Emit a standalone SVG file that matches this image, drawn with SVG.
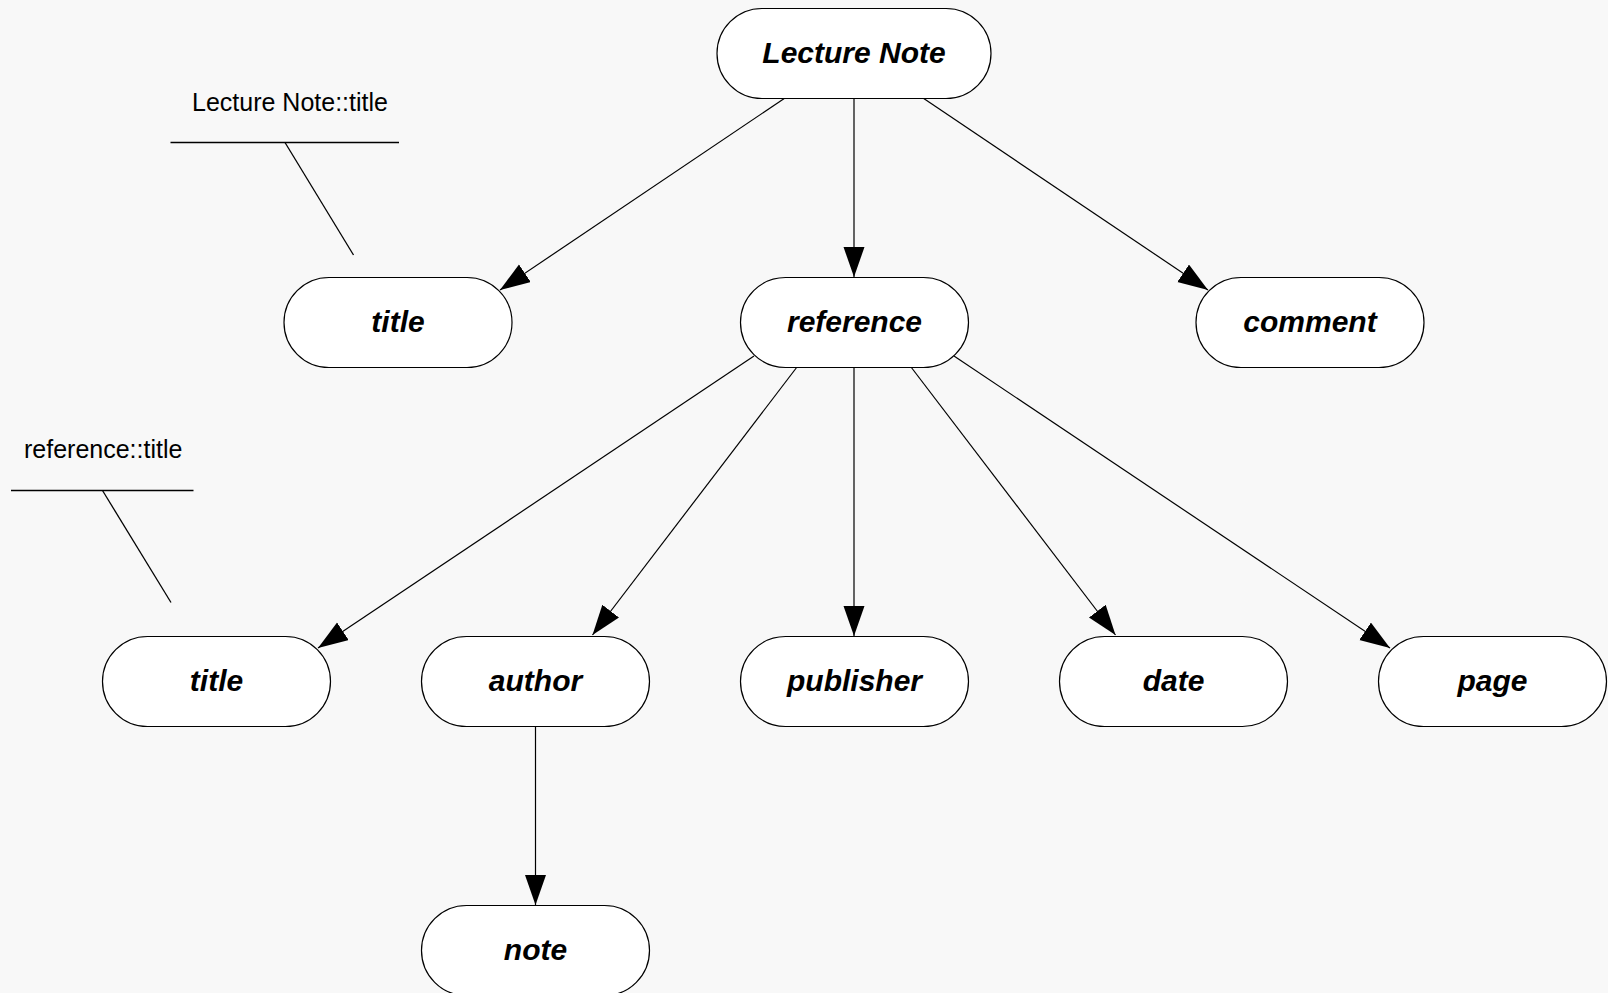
<svg xmlns="http://www.w3.org/2000/svg" width="1608" height="993" viewBox="0 0 1608 993">
<defs>
<style>
.node rect{fill:#ffffff;stroke:#000000;stroke-width:1.2}
.node text{font-family:"Liberation Sans",Arial,sans-serif;font-size:30px;font-weight:bold;font-style:italic;fill:#000000;text-anchor:middle}
.ann line{stroke:#000000;stroke-width:1.3}
.ann text{font-family:"Liberation Sans",Arial,sans-serif;font-size:25px;fill:#000000}
.edges line{stroke:#000000;stroke-width:1.2;fill:none}
</style>
<marker id="arr" markerUnits="userSpaceOnUse" markerWidth="31" markerHeight="22" refX="30" refY="10.5" orient="auto">
<path d="M0,0 L30,10.5 L0,21 Z" fill="#000000"/>
</marker>
</defs>
<rect x="0" y="0" width="1608" height="993" fill="#f8f8f8"/>

<g id="connectors" class="edges">
<line x1="785" y1="98" x2="500" y2="290" marker-end="url(#arr)"/>
<line x1="854" y1="98" x2="854" y2="277" marker-end="url(#arr)"/>
<line x1="923" y1="98" x2="1208" y2="290" marker-end="url(#arr)"/>
<line x1="754" y1="356" x2="318" y2="648" marker-end="url(#arr)"/>
<line x1="797" y1="367" x2="592.5" y2="635" marker-end="url(#arr)"/>
<line x1="854" y1="367" x2="854" y2="636" marker-end="url(#arr)"/>
<line x1="911" y1="367" x2="1115.5" y2="635" marker-end="url(#arr)"/>
<line x1="954" y1="356" x2="1390" y2="648" marker-end="url(#arr)"/>
<line x1="535.5" y1="726" x2="535.5" y2="905" marker-end="url(#arr)"/>
</g>

<g id="ann-lecture-note-title" class="ann">
<text x="192" y="111">Lecture Note::title</text>
<line x1="170.5" y1="142.5" x2="399" y2="142.5"/>
<line x1="285" y1="142.5" x2="353.5" y2="255"/>
</g>
<g id="ann-reference-title" class="ann">
<text x="24" y="458">reference::title</text>
<line x1="11" y1="490.5" x2="193.5" y2="490.5"/>
<line x1="102.5" y1="490.5" x2="171" y2="602.5"/>
</g>

<g id="node-lecture-note" class="node">
<rect x="717" y="8.5" width="274" height="90" rx="45" ry="45"/>
<text x="854" y="63">Lecture Note</text>
</g>
<g id="node-title-1" class="node">
<rect x="284" y="277.5" width="228" height="90" rx="45" ry="45"/>
<text x="398" y="332">title</text>
</g>
<g id="node-reference" class="node">
<rect x="740.5" y="277.5" width="228" height="90" rx="45" ry="45"/>
<text x="854.5" y="332">reference</text>
</g>
<g id="node-comment" class="node">
<rect x="1196" y="277.5" width="228" height="90" rx="45" ry="45"/>
<text x="1310" y="332">comment</text>
</g>
<g id="node-title-2" class="node">
<rect x="102.5" y="636.5" width="228" height="90" rx="45" ry="45"/>
<text x="216.5" y="691">title</text>
</g>
<g id="node-author" class="node">
<rect x="421.5" y="636.5" width="228" height="90" rx="45" ry="45"/>
<text x="535.5" y="691">author</text>
</g>
<g id="node-publisher" class="node">
<rect x="740.5" y="636.5" width="228" height="90" rx="45" ry="45"/>
<text x="854.5" y="691">publisher</text>
</g>
<g id="node-date" class="node">
<rect x="1059.5" y="636.5" width="228" height="90" rx="45" ry="45"/>
<text x="1173.5" y="691">date</text>
</g>
<g id="node-page" class="node">
<rect x="1378.5" y="636.5" width="228" height="90" rx="45" ry="45"/>
<text x="1492.5" y="691">page</text>
</g>
<g id="node-note" class="node">
<rect x="421.5" y="905.5" width="228" height="90" rx="45" ry="45"/>
<text x="535.5" y="960">note</text>
</g>
</svg>
